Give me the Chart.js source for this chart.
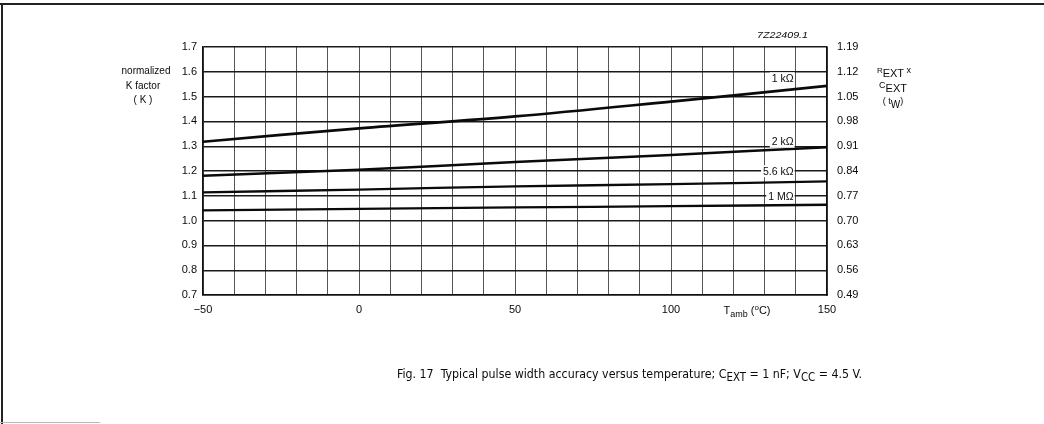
<!DOCTYPE html>
<html>
<head>
<meta charset="utf-8">
<script src="https://cdn.jsdelivr.net/npm/chart.js@4"></script>
<style>
  html, body { margin: 0; padding: 0; background: #fff; }
  #wrap { width: 1044px; height: 424px; position: relative; }
</style>
</head>
<body>
<div id="wrap"><canvas id="chart" width="1044" height="424"></canvas></div>
<script>
// values (K factor vs ambient temperature)
const temps = [-50, 0, 50, 100, 150];
const k1k  = [1.318, 1.372, 1.420, 1.480, 1.543];
const k2k  = [1.181, 1.205, 1.236, 1.265, 1.296];
const k56k = [1.114, 1.125, 1.138, 1.147, 1.158];
const k1M  = [1.041, 1.047, 1.053, 1.058, 1.064];
const seriesNames = ['1 kΩ', '2 kΩ', '5.6 kΩ', '1 MΩ'];

const gridTemps = [-50, -40, -30, -20, -10, 0, 10, 20, 30, 40, 50, 60, 70, 80, 90, 100, 110, 120, 130, 140, 150];
const xTickLabels = [-50, 0, 50, 100, 150];
const leftTicks = [0.7, 0.8, 0.9, 1.0, 1.1, 1.2, 1.3, 1.4, 1.5, 1.6, 1.7];
const rightTicks = [0.49, 0.56, 0.63, 0.70, 0.77, 0.84, 0.91, 0.98, 1.05, 1.12, 1.19];

// where the curve names sit (temperature, K)
const labelAnchors = [[139.3, 1.574], [139.3, 1.318], [139.3, 1.199], [139.3, 1.096]];

const FONT = '"Liberation Sans", Arial, Helvetica, sans-serif';
const INK = '#0a0a0a';

function pts(ys) { return temps.map((t, i) => ({ x: t, y: ys[i] })); }

// draws text made of pieces (for sub/superscripts); fit squeezes it to a width
function rich(ctx, parts, x, y, align, fit) {
  let w = 0;
  parts.forEach(p => { ctx.font = (p.style || '') + ' ' + p.size + 'px ' + (p.family || FONT); w += ctx.measureText(p.t).width; });
  const k = fit ? fit / w : 1;
  const left = align === 'center' ? x - w * k / 2 : align === 'right' ? x - w * k : x;
  ctx.save();
  ctx.translate(left, y);
  ctx.scale(k, 1);
  ctx.textAlign = 'left';
  ctx.textBaseline = 'alphabetic';
  let cx = 0;
  parts.forEach(p => {
    ctx.font = (p.style || '') + ' ' + p.size + 'px ' + (p.family || FONT);
    ctx.fillText(p.t, cx, p.dy || 0);
    cx += ctx.measureText(p.t).width;
  });
  ctx.restore();
}

const decor = {
  id: 'decor',
  beforeDraw(chart) {
    const ctx = chart.ctx;
    ctx.save();
    ctx.fillStyle = '#fff';
    ctx.fillRect(0, 0, chart.width, chart.height);
    ctx.fillStyle = '#222';
    ctx.fillRect(0, 3, chart.width, 2);
    ctx.fillRect(1, 3, 2, chart.height - 3);
    ctx.fillStyle = '#bbb';
    ctx.fillRect(0, 422, 100, 1);
    ctx.restore();
  },
  afterDatasetsDraw(chart) {
    const ctx = chart.ctx, xs = chart.scales.x, ys = chart.scales.y;
    ctx.save();
    ctx.font = '10.5px ' + FONT;
    labelAnchors.forEach((a, i) => {
      const px = xs.getPixelForValue(a[0]), py = ys.getPixelForValue(a[1]);
      const w = ctx.measureText(seriesNames[i]).width;
      ctx.fillStyle = '#fff';
      ctx.fillRect(px - w - 2, py - 6, w + 3, 12);
      ctx.fillStyle = INK;
      ctx.textAlign = 'right';
      ctx.textBaseline = 'middle';
      ctx.fillText(seriesNames[i], px, py + 0.5);
    });
    ctx.restore();
  },
  afterDraw(chart) {
    const ctx = chart.ctx;
    ctx.save();
    ctx.fillStyle = INK;
    // left axis title
    ctx.textAlign = 'center';
    ctx.textBaseline = 'middle';
    ctx.font = '10px ' + FONT;
    ctx.fillText('normalized', 146, 71);
    ctx.fillText('K factor', 143, 86);
    ctx.fillText('( K )', 143, 100);
    // right axis title
    rich(ctx, [{ t: 'R', size: 8, dy: -4 }, { t: 'EXT', size: 11 }, { t: ' x', size: 9, dy: -4 }], 894, 77, 'center');
    rich(ctx, [{ t: 'C', size: 9, dy: -4 }, { t: 'EXT', size: 11 }], 893, 92, 'center');
    rich(ctx, [{ t: '( t', size: 9, dy: -3 }, { t: 'W', size: 10, dy: 1 }, { t: ')', size: 9, dy: -3 }], 893, 107, 'center');
    // drawing number
    rich(ctx, [{ t: '7Z22409.1', size: 9.5, style: 'italic' }], 757, 38, 'left', 51);
    // x axis title
    rich(ctx, [{ t: 'T', size: 11 }, { t: 'amb', size: 9, dy: 3 }, { t: ' (', size: 11 }, { t: 'o', size: 8, dy: -4 }, { t: 'C)', size: 11 }], 747, 314, 'center');
    // caption
    const cap = [
      { t: 'Fig. 17  Typical pulse width accuracy versus temperature; C', size: 13 },
      { t: 'EXT', size: 12, dy: 3 },
      { t: ' = 1 nF; V', size: 13 },
      { t: 'CC', size: 12, dy: 3 },
      { t: ' = 4.5 V.', size: 13 }
    ];
    cap.forEach(p => p.family = '"Liberation Sans Narrow", "DejaVu Sans Condensed", ' + FONT);
    rich(ctx, cap, 397, 378, 'left', 465);
    ctx.restore();
  }
};

const line = (label, ys, w) => ({
  label, data: pts(ys), borderColor: '#0a0a0a', borderWidth: w,
  pointRadius: 0, tension: 0.35, fill: false, yAxisID: 'y'
});

new Chart(document.getElementById('chart'), {
  type: 'line',
  data: {
    datasets: [
      line(seriesNames[0], k1k, 2.7),
      line(seriesNames[1], k2k, 2.5),
      line(seriesNames[2], k56k, 2.3),
      line(seriesNames[3], k1M, 2.3)
    ]
  },
  options: {
    responsive: false, animation: false,
    layout: { padding: { top: 47, left: 0, right: 0, bottom: 0 } },
    plugins: { legend: { display: false }, tooltip: { enabled: false } },
    scales: {
      x: {
        type: 'linear', min: -50, max: 150,
        afterBuildTicks: s => { s.ticks = gridTemps.map(v => ({ value: v })); },
        afterFit: s => { s.height = 129; },
        ticks: {
          autoSkip: false, maxRotation: 0, padding: 8, color: INK,
          font: { family: FONT, size: 11 },
          callback: v => xTickLabels.includes(v) ? (v < 0 ? '−' + Math.abs(v) : String(v)) : ''
        },
        grid: { color: '#555', lineWidth: 1, drawTicks: false },
        border: { color: '#111', width: 1.5 }
      },
      y: {
        type: 'linear', min: 0.7, max: 1.7, position: 'left',
        afterBuildTicks: s => { s.ticks = leftTicks.map(v => ({ value: v })); },
        afterFit: s => { s.width = 203; },
        ticks: { padding: 6, color: INK, font: { family: FONT, size: 11 }, callback: v => v.toFixed(1) },
        grid: { color: '#1a1a1a', lineWidth: 1.4, drawTicks: false },
        border: { color: '#111', width: 1.5 }
      },
      y2: {
        type: 'linear', min: 0.49, max: 1.19, position: 'right',
        afterBuildTicks: s => { s.ticks = rightTicks.map(v => ({ value: v })); },
        afterFit: s => { s.width = 217; },
        ticks: { padding: 10, color: INK, font: { family: FONT, size: 11 }, callback: v => v.toFixed(2) },
        grid: { display: false, drawTicks: false },
        border: { color: '#111', width: 1.5 }
      }
    }
  },
  plugins: [decor]
});
</script>
</body>
</html>
